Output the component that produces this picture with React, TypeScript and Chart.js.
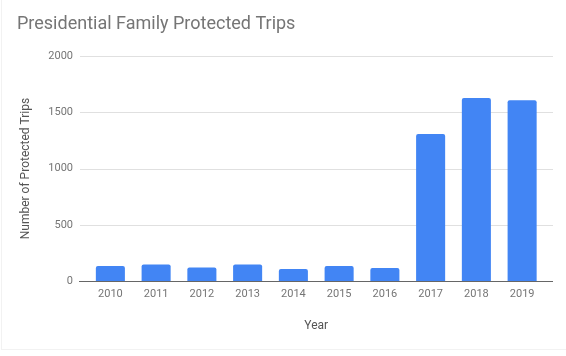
import React, { useEffect, useRef } from "react";
import { Chart, registerables } from "chart.js";

Chart.register(...registerables);

const years = ["2010", "2011", "2012", "2013", "2014", "2015", "2016", "2017", "2018", "2019"];
const trips = [133, 146, 119, 146, 107, 133, 116, 1307, 1627, 1606];
const yTicks = [0, 500, 1000, 1500, 2000];

const FONT = "Roboto, 'Noto Sans', Arial, sans-serif";

const gridPlugin = {
  id: "extGrid",
  beforeDatasetsDraw(chart: any) {
    const ctx = chart.ctx;
    const y = chart.scales.y;
    const left = chart.chartArea.left - 7.5;
    const right = chart.chartArea.right + 8;
    ctx.save();
    ctx.strokeStyle = "#e0e0e0";
    ctx.lineWidth = 1;
    yTicks.forEach((v) => {
      if (v === 0) return;
      const py = Math.round(y.getPixelForValue(v)) + 0.5;
      ctx.beginPath();
      ctx.moveTo(left, py);
      ctx.lineTo(right, py);
      ctx.stroke();
    });
    ctx.restore();
  },
  afterDatasetsDraw(chart: any) {
    const ctx = chart.ctx;
    const y = chart.scales.y;
    const left = chart.chartArea.left - 8.5;
    const right = chart.chartArea.right + 8;
    ctx.save();
    ctx.strokeStyle = "#666666";
    ctx.lineWidth = 1;
    const py = Math.round(y.getPixelForValue(0)) + 0.5;
    ctx.beginPath();
    ctx.moveTo(left, py);
    ctx.lineTo(right, py);
    ctx.stroke();
    ctx.restore();
  },
};

export default function App() {
  const ref = useRef<HTMLCanvasElement | null>(null);

  useEffect(() => {
    if (!ref.current) return;
    const chart = new Chart(ref.current, {
      type: "bar",
      data: {
        labels: years,
        datasets: [
          {
            data: trips,
            backgroundColor: "#4285f4",
            borderRadius: { topLeft: 2, topRight: 2, bottomLeft: 0, bottomRight: 0 },
            borderSkipped: "bottom",
            barPercentage: 0.635,
            categoryPercentage: 1,
          },
        ],
      },
      options: {
        animation: false,
        responsive: false,
        maintainAspectRatio: false,
        layout: { padding: { left: 17, right: 21, top: 0, bottom: 0 } },
        plugins: {
          legend: { display: false },
          tooltip: { enabled: false },
          title: {
            display: true,
            text: "Presidential Family Protected Trips",
            align: "start",
            color: "#757575",
            font: { family: FONT, size: 18, weight: "normal" },
            padding: { top: 14, bottom: 20.4 },
          },
        },
        scales: {
          x: {
            grid: { display: false, drawTicks: false },
            border: { display: false },
            ticks: {
              color: "#757575",
              font: { family: FONT, size: 11 },
              padding: 7,
              maxRotation: 0,
            },
            title: {
              display: true,
              text: "Year",
              color: "#555555",
              font: { family: FONT, size: 12 },
              padding: { top: 0, bottom: 22.8 },
            },
            afterFit(scale: any) {
              scale.height = 75;
            },
          },
          y: {
            min: 0,
            max: 2000,
            grid: { display: false, drawTicks: false },
            border: { display: false },
            ticks: {
              stepSize: 500,
              color: "#757575",
              font: { family: FONT, size: 11 },
              padding: 14.5,
              callback: (v: any) => String(v),
            },
            title: {
              display: true,
              text: "Number of Protected Trips",
              color: "#555555",
              font: { family: FONT, size: 12 },
              padding: { top: 1.4, bottom: 0 },
            },
            afterFit(scale: any) {
              scale.width = 70.5;
            },
          },
        },
      },
      plugins: [gridPlugin],
    });
    return () => chart.destroy();
  }, []);

  return (
    <div
      style={{
        position: "fixed",
        left: 0,
        top: 0,
        width: 566,
        height: 356,
        background: "#ffffff",
      }}
    >
      <canvas ref={ref} width={566} height={356} style={{ width: 566, height: 356, display: "block" }} />
      <div style={{ position: "absolute", left: 1, top: 0, width: 1, height: 350, background: "#f2f2f2" }} />
      <div style={{ position: "absolute", left: 1, top: 349, width: 565, height: 1, background: "#f2f2f2" }} />
    </div>
  );
}
